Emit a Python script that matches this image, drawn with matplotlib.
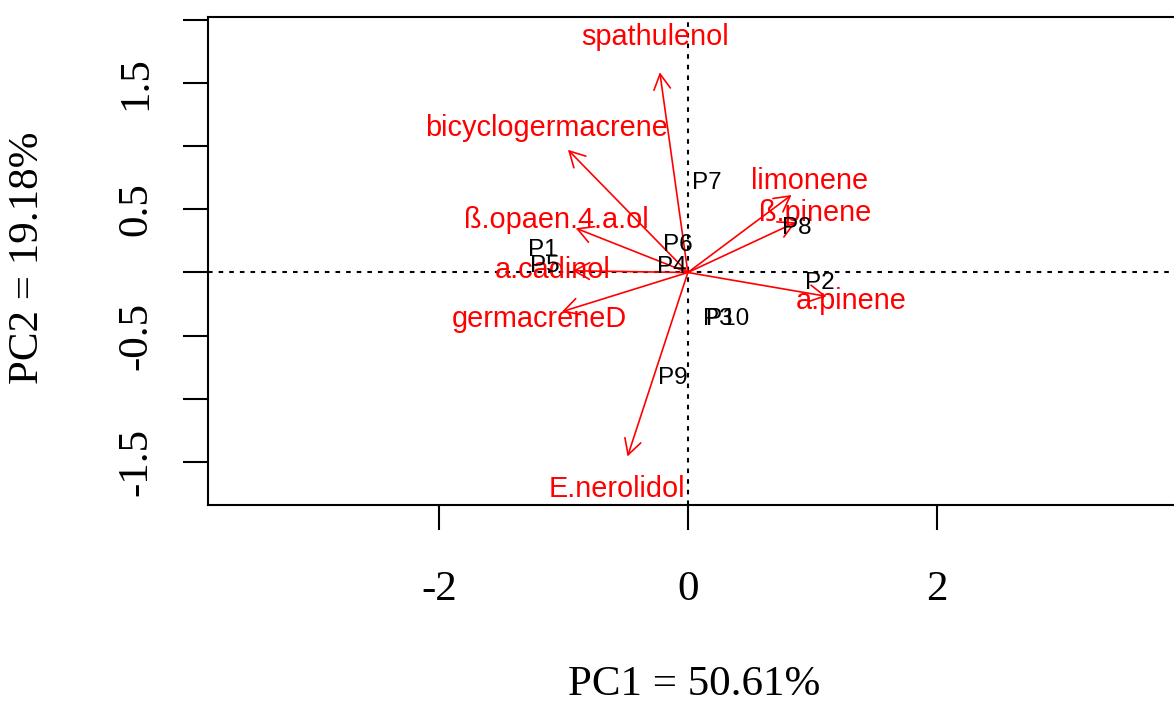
import matplotlib
matplotlib.use("Agg")
import matplotlib.pyplot as plt
from matplotlib.patches import FancyArrowPatch

plt.rcParams["axes.unicode_minus"] = False

# sample scores (PC1, PC2)
sample_names = ["P1", "P2", "P3", "P4", "P5", "P6", "P7", "P8", "P9", "P10"]
sample_pc1 = [-1.165, 1.06, 0.24, -0.128, -1.15, -0.08, 0.153, 0.875, -0.12, 0.32]
sample_pc2 = [0.175, -0.087, -0.365, 0.04, 0.048, 0.214, 0.706, 0.35, -0.833, -0.365]

# variable loadings (label positions), arrows are drawn to a fraction of them
var_names = ["spathulenol", "bicyclogermacrene", "ß.opaen.4.a.ol", "a.cadinol",
             "germacreneD", "E.nerolidol", "limonene", "ß.pinene", "a.pinene"]
var_pc1 = [-0.265, -1.133, -1.06, -1.09, -1.19, -0.57, 0.98, 1.02, 1.31]
var_pc2 = [1.865, 1.143, 0.413, 0.016, -0.365, -1.714, 0.722, 0.468, -0.222]
arrow_frac = 0.85

xlabel = "PC1 = 50.61%"
ylabel = "PC2 = 19.18%"

W, H = 1174, 704
fig = plt.figure(figsize=(W / 100, H / 100), dpi=100)
ax = fig.add_axes([208 / W, (H - 505) / H, (1182 - 208) / W, (505 - 17) / H])

ax.set_xlim(-3.855, 3.97)
ax.set_ylim(-1.841, 2.023)

dots = (0, (2.2, 2.9))
ax.axhline(0, color="black", lw=1.5, ls=dots, zorder=1)
ax.axvline(0, color="black", lw=1.5, ls=dots, zorder=1)

for x, y in zip(var_pc1, var_pc2):
    arr = FancyArrowPatch((0, 0), (x * arrow_frac, y * arrow_frac),
                          arrowstyle="->,head_length=0.55,head_width=0.3",
                          mutation_scale=20, color="#ff0000", lw=1.2,
                          shrinkA=0, shrinkB=0, zorder=2)
    ax.add_patch(arr)

for name, x, y in zip(var_names, var_pc1, var_pc2):
    ax.text(x, y, name, color="#ff0000", fontsize=20.8, family="Liberation Sans",
            ha="center", va="center", zorder=3)

for name, x, y in zip(sample_names, sample_pc1, sample_pc2):
    ax.text(x, y, name, color="black", fontsize=17.5, family="Liberation Sans",
            ha="center", va="center", zorder=3)

ax.set_xticks([-2, 0, 2])
ax.set_yticks([-1.5, -1.0, -0.5, 0.0, 0.5, 1.0, 1.5, 2.0])
ax.set_yticklabels(["-1.5", "", "-0.5", "", "0.5", "", "1.5", ""])
ax.tick_params(axis="both", direction="out", length=18, width=1.5,
               labelsize=31, labelfontfamily="Liberation Serif")
ax.tick_params(axis="x", pad=29)
ax.tick_params(axis="y", pad=20)
for lab in ax.get_yticklabels():
    lab.set_rotation(90)
    lab.set_va("center")

for s in ax.spines.values():
    s.set_linewidth(1.5)
ax.spines["right"].set_visible(False)

fig.text(694 / W, 1 - 685 / H, xlabel, ha="center", va="center",
         fontsize=31, family="Liberation Serif")
fig.text(28 / W, 1 - 258 / H, ylabel, ha="center", va="center",
         rotation=90, fontsize=31, family="Liberation Serif")

fig.savefig("out.png", dpi=100)
